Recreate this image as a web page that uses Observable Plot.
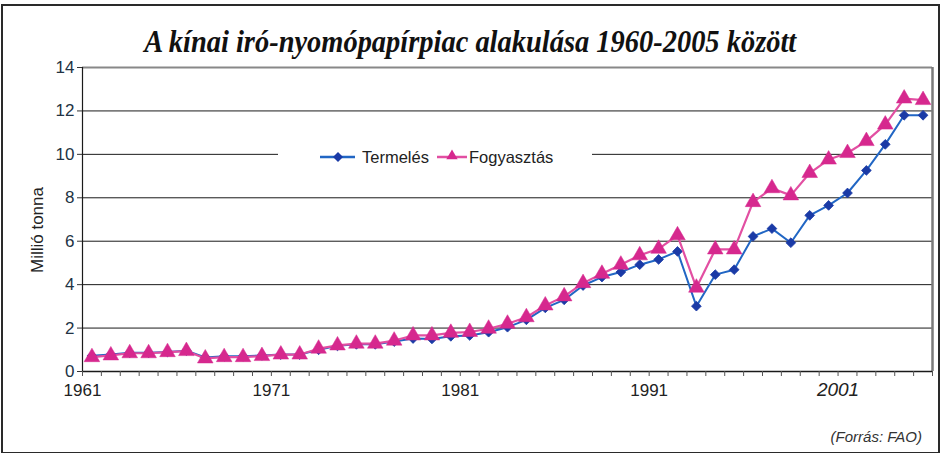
<!DOCTYPE html>
<html>
<head>
<meta charset="utf-8">
<script src="https://cdn.jsdelivr.net/npm/d3@7"></script>
<script src="https://cdn.jsdelivr.net/npm/@observablehq/plot@0.6"></script>
<style>
  html, body { margin: 0; padding: 0; background: #fff; }
  #wrap { position: relative; width: 941px; height: 453px; overflow: hidden; background: #fff; }
  #frame { position: absolute; left: 1px; top: 4px; width: 935px; height: 446px; border: 2px solid #2a2a2a; box-sizing: content-box; }
  #title { position: absolute; top: 26px; left: 0; width: 941px; text-align: center; white-space: nowrap;
           font: italic bold 31px "Liberation Serif", serif; line-height: 31px; color: #111; }
  #title span { display: inline-block; transform-origin: 50% 50%; }
  #chart { position: absolute; top: 58px; left: 0; }
  #ylabel { position: absolute; left: 38px; top: 230px; transform: translate(-50%, -50%) rotate(-90deg);
            font: 17px "Liberation Sans", sans-serif; color: #222; white-space: nowrap; }
  #legend { position: absolute; left: 278px; top: 141px; width: 314px; height: 30px; background: #fff;
            font: 16px "Liberation Sans", sans-serif; color: #222; }
  #legend svg { position: absolute; left: 0; top: 0; }
  #caption { position: absolute; right: 19px; top: 428px; font: italic 15px "Liberation Sans", sans-serif; color: #333; }
</style>
</head>
<body>
<div id="wrap">
  <div id="frame"></div>
  <div id="title"><span id="titletext">A kínai iró-nyomópapírpiac alakulása 1960-2005 között</span></div>
  <div id="chart"></div>
  <div id="ylabel">Millió tonna</div>
  <div id="legend"></div>
  <div id="caption">(Forrás: FAO)</div>
</div>
<script>
// ---- data ----
const years = [1961,1962,1963,1964,1965,1966,1967,1968,1969,1970,
               1971,1972,1973,1974,1975,1976,1977,1978,1979,1980,
               1981,1982,1983,1984,1985,1986,1987,1988,1989,1990,
               1991,1992,1993,1994,1995,1996,1997,1998,1999,2000,
               2001,2002,2003,2004,2005];
const termeles = [0.72,0.78,0.86,0.86,0.90,0.96,0.65,0.70,0.70,0.74,
                  0.78,0.78,1.00,1.18,1.25,1.25,1.38,1.52,1.50,1.62,
                  1.66,1.81,2.04,2.38,2.93,3.30,3.96,4.35,4.58,4.92,
                  5.16,5.53,3.01,4.46,4.69,6.22,6.58,5.93,7.19,7.65,
                  8.22,9.26,10.46,11.80,11.80];
const fogyasztas = [0.66,0.74,0.84,0.84,0.89,0.94,0.60,0.66,0.66,0.71,
                    0.78,0.78,1.05,1.20,1.28,1.28,1.42,1.66,1.66,1.78,
                    1.82,1.97,2.20,2.50,3.04,3.46,4.07,4.50,4.92,5.35,
                    5.65,6.27,3.86,5.62,5.62,7.80,8.44,8.11,9.14,9.76,
                    10.06,10.61,11.37,12.57,12.50];
const seriesNames = ["Termelés", "Fogyasztás"];
const yTicks = [0,2,4,6,8,10,12,14];
const xTickLabels = [1961,1971,1981,1991,2001];

const blueLine = "#2166c4", blueDot = "#1a3aa6";
const pinkLine = "#e24fa2", pinkDot = "#d6288e";
const tickFont = "Liberation Sans Narrow, Liberation Sans, sans-serif";

// ---- title fit ----
const tt = document.getElementById("titletext");
const tw = tt.getBoundingClientRect().width;
tt.style.transform = `scaleX(${652 / tw})`;

// ---- build rows ----
const prod = years.map((y, i) => ({year: y, value: termeles[i]}));
const cons = years.map((y, i) => ({year: y, value: fogyasztas[i]}));
const x0 = years[0] - 0.5, x1 = years[years.length - 1] + 0.5;
const boundaries = years.map(y => y - 0.5).concat([x1]);

const chart = Plot.plot({
  width: 941,
  height: 355,
  marginLeft: 82,
  marginRight: 9,
  marginTop: 9,
  marginBottom: 42,
  x: {domain: [x0, x1]},
  y: {domain: [0, 14]},
  style: {fontFamily: tickFont, fontSize: "16px", color: "#223344", background: "transparent"},
  marks: [
    Plot.ruleY(yTicks.filter(d => d > 0 && d < 14), {stroke: "#1a1a1a", strokeWidth: 1}),
    Plot.ruleY([14], {stroke: "#888", strokeWidth: 2}),
    Plot.ruleX([x1], {stroke: "#7a7a7a", strokeWidth: 2.5}),
    Plot.ruleX([x0], {stroke: "#1a1a1a", strokeWidth: 1.2}),
    Plot.ruleY([0], {stroke: "#1a1a1a", strokeWidth: 1.5}),
    Plot.axisY({ticks: yTicks, tickSize: 5, tickPadding: 3, stroke: "#333", label: null, fontSize: 17}),
    Plot.axisX({ticks: boundaries, tickSize: 5, tickFormat: () => "", stroke: "#555", label: null}),
    Plot.axisX({ticks: xTickLabels.filter(d => d !== 2001).map(d => d - 0.5), tickSize: 0, tickPadding: 12,
                tickFormat: d => String(d + 0.5), label: null, fontSize: 17, fill: "#222"}),
    Plot.axisX({ticks: [2000.5], tickSize: 0, tickPadding: 11,
                tickFormat: d => String(d + 0.5), label: null, fontSize: 19, fontStyle: "italic", fill: "#222"}),
    Plot.line(prod, {x: "year", y: "value", stroke: blueLine, strokeWidth: 2}),
    Plot.dot(prod, {x: "year", y: "value", symbol: "diamond2", r: 4.4, fill: blueDot, stroke: blueDot, strokeWidth: 0.8}),
    Plot.line(cons, {x: "year", y: "value", stroke: pinkLine, strokeWidth: 2.2}),
    Plot.dot(cons, {x: "year", y: "value", symbol: "triangle", r: 5.8, fill: pinkDot, stroke: pinkDot, strokeWidth: 0.5})
  ]
});
document.getElementById("chart").appendChild(chart);

// ---- legend ----
const lg = d3.select("#legend");
const svg = lg.append("svg").attr("width", 314).attr("height", 30);
// Termelés
svg.append("line").attr("x1", 42).attr("x2", 77).attr("y1", 16).attr("y2", 16).attr("stroke", blueLine).attr("stroke-width", 2.5);
svg.append("path").attr("d", d3.symbol(d3.symbolDiamond2, 64)()).attr("transform", "translate(60,16)").attr("fill", blueDot);
svg.append("text").attr("x", 84).attr("y", 22).attr("font-size", 16.5).attr("fill", "#222").text(seriesNames[0]);
// Fogyasztás
svg.append("line").attr("x1", 159).attr("x2", 189).attr("y1", 16).attr("y2", 16).attr("stroke", pinkLine).attr("stroke-width", 2.5);
svg.append("path").attr("d", d3.symbol(d3.symbolTriangle, 56)()).attr("transform", "translate(174,15)").attr("fill", pinkDot);
svg.append("text").attr("x", 191).attr("y", 22).attr("font-size", 16.5).attr("fill", "#222").text(seriesNames[1]);
</script>
</body>
</html>
